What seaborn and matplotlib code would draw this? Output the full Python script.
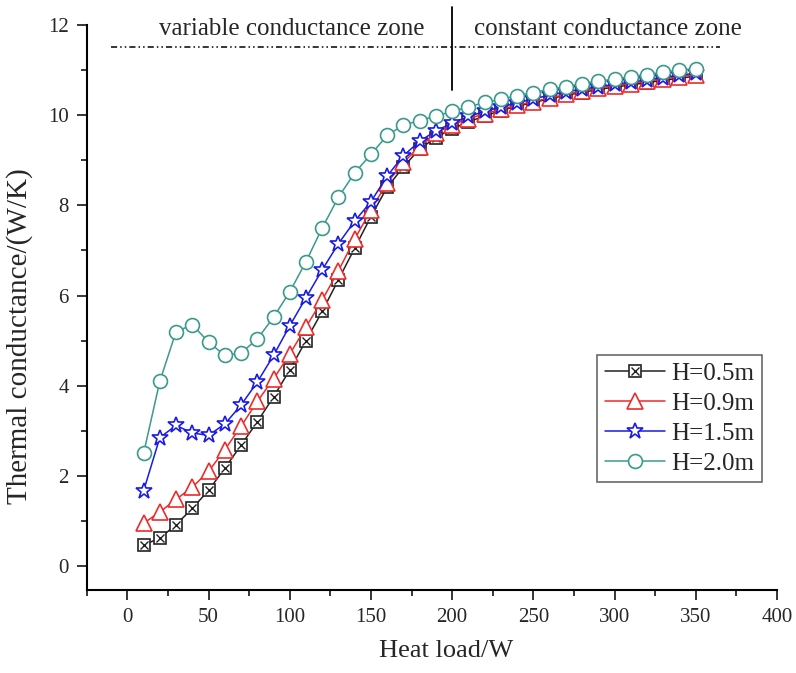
import numpy as np
import pandas as pd
import matplotlib
matplotlib.use("Agg")
import matplotlib.pyplot as plt
import seaborn as sns
from matplotlib.legend_handler import HandlerTuple
from matplotlib.ticker import MultipleLocator

heat_load = list(range(10, 360, 10))

h05 = [0.47, 0.62, 0.92, 1.28, 1.68, 2.17, 2.68, 3.2, 3.75, 4.35, 5.0, 5.65, 6.35, 7.05,
       7.75, 8.4, 8.85, 9.25, 9.5, 9.7, 9.85, 9.98, 10.1, 10.2, 10.28, 10.36, 10.44,
       10.5, 10.57, 10.62, 10.67, 10.72, 10.77, 10.82, 10.86]
h09 = [0.95, 1.2, 1.48, 1.75, 2.1, 2.58, 3.1, 3.65, 4.15, 4.7, 5.3, 5.9, 6.55, 7.25,
       7.9, 8.5, 8.95, 9.3, 9.6, 9.78, 9.92, 10.03, 10.13, 10.22, 10.3, 10.38, 10.46,
       10.53, 10.6, 10.65, 10.7, 10.75, 10.8, 10.85, 10.9]
h15 = [1.67, 2.85, 3.12, 2.95, 2.9, 3.15, 3.57, 4.08, 4.67, 5.33, 5.95, 6.57, 7.15, 7.65,
       8.08, 8.65, 9.1, 9.42, 9.65, 9.82, 9.97, 10.08, 10.18, 10.27, 10.36, 10.44, 10.51,
       10.57, 10.63, 10.68, 10.73, 10.78, 10.83, 10.88, 10.93]
h20 = [2.5, 4.1, 5.2, 5.35, 4.97, 4.67, 4.73, 5.03, 5.52, 6.08, 6.75, 7.5, 8.18, 8.72,
       9.13, 9.55, 9.78, 9.88, 9.98, 10.08, 10.18, 10.28, 10.35, 10.43, 10.5, 10.57, 10.63,
       10.7, 10.75, 10.8, 10.85, 10.9, 10.95, 11.0, 11.03]

labels = ["H=0.5m", "H=0.9m", "H=1.5m", "H=2.0m"]
series = [h05, h09, h15, h20]
colors = ["#222222", "#ee2a2a", "#1a1ae6", "#3a9a8c"]
markers = ["s", "^", "*", "o"]
msizes = [8, 11, 12, 10]

zone_x = 200
zone_labels = ["variable conductance zone", "constant conductance zone"]

sns.set_style("ticks")
plt.rcParams["font.family"] = ["Liberation Serif", "DejaVu Serif"]

fig = plt.figure(figsize=(7.96, 6.73), dpi=100)
ax = fig.add_axes([0.109, 0.1233, 0.867, 0.8397])

rows = []
for lab, vals in zip(labels, series):
    for x, y in zip(heat_load, vals):
        rows.append({"Heat load": x, "G": y, "H": lab})
df = pd.DataFrame(rows)

handles = []
for lab, c, m, ms in zip(labels, colors, markers, msizes):
    sub = df[df["H"] == lab]
    sns.lineplot(data=sub, x="Heat load", y="G", ax=ax, color=c, lw=1.1,
                 marker=m, markersize=ms, markerfacecolor="white",
                 markeredgecolor=c, markeredgewidth=1.2, legend=False)
    line = ax.lines[-1]
    if lab == "H=0.5m":
        ax.plot(sub["Heat load"], sub["G"], ls="none", marker="x", markersize=ms * 0.8,
                color=c, markeredgewidth=1.0)
        xl = ax.lines[-1]
        handles.append((line, xl))
    else:
        handles.append(line)

ax.set_xlim(-25, 400)
ax.set_ylim(-0.53, 12)
ax.xaxis.set_major_locator(MultipleLocator(50))
ax.xaxis.set_minor_locator(MultipleLocator(25))
ax.yaxis.set_major_locator(MultipleLocator(2))
ax.yaxis.set_minor_locator(MultipleLocator(1))
ax.tick_params(which="major", direction="out", length=7, width=1.3, labelsize=15, pad=6)
ax.tick_params(which="minor", direction="out", length=4, width=1.3)
for s in ["top", "right"]:
    ax.spines[s].set_visible(False)
for s in ["left", "bottom"]:
    ax.spines[s].set_linewidth(1.5)
    ax.spines[s].set_color("black")

ax.set_xlabel("Heat load/W", fontsize=19)
ax.set_ylabel("Thermal conductance/(W/K)", fontsize=21)
ax.xaxis.set_label_coords(0.52, -0.088)
ax.yaxis.set_label_coords(-0.078, 0.45)

# zone annotations
ax.plot([-10, 365], [11.5, 11.5], color="black", lw=1.1, ls=(0, (4, 2, 1, 2, 1, 2)),
        clip_on=False)
ax.plot([zone_x, zone_x], [10.56, 12.4], color="black", lw=1.3, clip_on=False)
ax.text(101, 11.9, zone_labels[0], ha="center", va="center", fontsize=18)
ax.text(296, 11.9, zone_labels[1], ha="center", va="center", fontsize=18)

leg = ax.legend(handles, labels, loc="upper left", bbox_to_anchor=(0.74, 0.416),
                borderaxespad=0, fontsize=18, frameon=True, fancybox=False,
                edgecolor="#444444", handlelength=2.4, handletextpad=0.25,
                labelspacing=0.3, borderpad=0.3,
                handler_map={tuple: HandlerTuple(ndivide=1, pad=0)})
leg.get_frame().set_linewidth(1.2)

fig.savefig("out.png", dpi=100)
